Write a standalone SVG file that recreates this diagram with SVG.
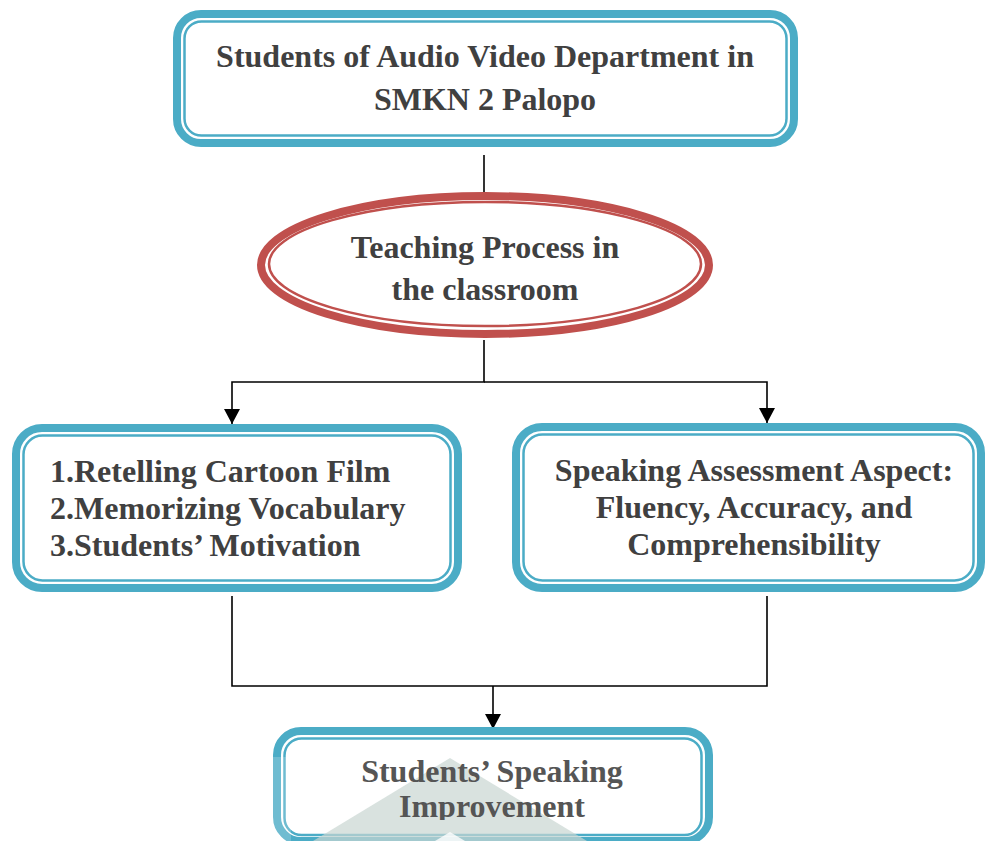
<svg xmlns="http://www.w3.org/2000/svg" width="988" height="841" viewBox="0 0 988 841">
<defs>
<style>
.outer{fill:#ffffff;stroke:#4BACC6;stroke-width:8}
.inner{fill:none;stroke:#4BACC6;stroke-width:2.5}
.eo{fill:#ffffff;stroke:#C0504D;stroke-width:8}
.ei{fill:none;stroke:#C0504D;stroke-width:2.5}
.t{font-family:"Liberation Serif","Times New Roman",serif;font-weight:bold;font-size:32px;fill:#404040}
.c{text-anchor:middle}
.ln{fill:none;stroke:#000000;stroke-width:1.6}
</style>
<marker id="arr" markerUnits="userSpaceOnUse" markerWidth="16" markerHeight="16" viewBox="0 0 16 16" refX="15" refY="8" orient="auto">
<path d="M0,0 L15,8 L0,16 Z" fill="#000000"/>
</marker>
<clipPath id="clipB"><rect x="0" y="0" width="988" height="820"/></clipPath>
</defs>

<g id="connectors">
<line class="ln" x1="484" y1="155" x2="484" y2="192"/>
<polyline class="ln" points="484,340 484,382 232,382 232,424" marker-end="url(#arr)"/>
<polyline class="ln" points="484,382 767,382 767,423" marker-end="url(#arr)"/>
<polyline class="ln" points="232,596 232,686 767,686 767,596"/>
<line class="ln" x1="493" y1="686" x2="493" y2="729" marker-end="url(#arr)"/>
</g>

<g id="node-students">
<rect class="outer" x="177" y="14" width="617" height="129" rx="24"/>
<rect class="inner" x="184.5" y="21.5" width="602" height="114" rx="17"/>
<text class="t c" x="485" y="67">Students of Audio Video Department in</text>
<text class="t c" x="485" y="110">SMKN 2 Palopo</text>
</g>

<g id="node-teaching">
<ellipse class="eo" cx="485" cy="265" rx="224" ry="69"/>
<ellipse class="ei" cx="485" cy="264" rx="216" ry="62"/>
<text class="t c" x="485" y="258">Teaching Process in</text>
<text class="t c" x="485" y="300">the classroom</text>
</g>

<g id="node-methods">
<rect class="outer" x="16" y="428" width="442" height="160" rx="26"/>
<rect class="inner" x="23.5" y="435.5" width="427" height="145" rx="19"/>
<text class="t" x="50" y="482">1.Retelling Cartoon Film</text>
<text class="t" x="50" y="519">2.Memorizing Vocabulary</text>
<text class="t" x="50" y="556">3.Students’ Motivation</text>
</g>

<g id="node-assessment">
<rect class="outer" x="516" y="427" width="465" height="161" rx="26"/>
<rect class="inner" x="523.5" y="434.5" width="450" height="146" rx="19"/>
<text class="t c" x="754" y="481">Speaking Assessment Aspect:</text>
<text class="t c" x="754" y="518">Fluency, Accuracy, and</text>
<text class="t c" x="754" y="555">Comprehensibility</text>
</g>

<g id="node-improvement">
<rect class="outer" x="277" y="731" width="432" height="110" rx="24"/>
<rect class="inner" x="284.5" y="738.5" width="417" height="96.5" rx="17"/>
<polygon points="450,758 313,841 587,841" fill="#C9D6D2" opacity="0.7"/>
<polygon points="450,832 435,841 465,841" fill="#ffffff" opacity="0.8"/>
<rect x="273" y="757" width="18" height="84" fill="#ffffff" opacity="0.2"/>
<text class="t c" x="492" y="782" style="fill:#555555">Students’ Speaking</text>
<text class="t c" x="492" y="817" style="fill:#555555" clip-path="url(#clipB)">Improvement</text>
</g>
</svg>
